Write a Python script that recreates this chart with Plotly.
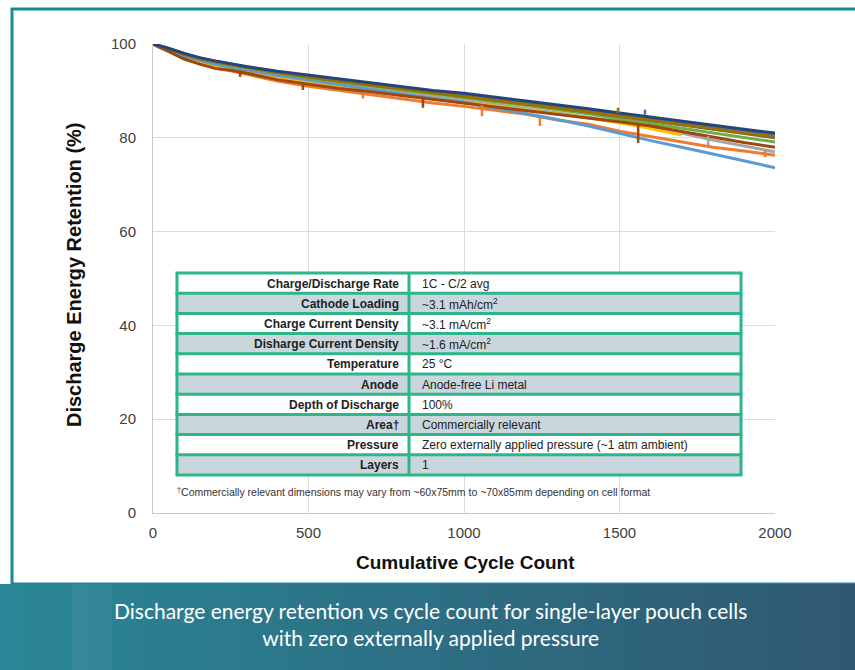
import plotly.graph_objects as go

W, H = 855, 670

# ---------------- data ----------------
cycles = [0, 20, 50, 100, 150, 200, 250, 300, 400, 500, 600, 700, 800, 900,
          1000, 1100, 1200, 1300, 1400, 1500, 1600, 1700, 1800, 1900, 2000]

orange = [100, 99.3, 98.5, 96.9, 96.0, 94.8, 94.3, 93.6, 92.1, 91.0, 90.1, 89.3, 88.4, 87.4,
          86.7, 85.9, 85.0, 83.8, 82.9, 81.4, 80.3, 79.2, 78.0, 77.2, 76.3]
brown = [100, 99.3, 98.4, 96.8, 95.7, 94.8, 94.4, 93.8, 92.4, 91.4, 90.5, 89.8, 89.0, 88.2,
         87.4, 86.6, 85.8, 85.1, 84.3, 83.4, 82.5, 81.3, 80.2, 79.0, 78.0]
yellow = [100, 99.4, 98.6, 97.1, 96.1, 95.3, 94.8, 94.2, 92.9, 91.8, 90.9, 90.0, 89.1, 88.3,
          87.6, 86.8, 85.9, 85.1, 84.2, 83.2, 82.0, 80.6, None, None, None]
light_blue = [100, 99.5, 98.8, 97.4, 96.5, 95.7, 95.1, 94.5, 93.3, 92.3, 91.3, 90.4, 89.4, 88.4,
              87.6, 86.4, 85.2, 83.9, 82.5, 80.9, 79.4, 78.0, 76.6, 75.1, 73.6]
gray = [100, 99.5, 98.8, 97.4, 96.4, 95.6, 95.0, 94.4, 93.2, 92.2, 91.3, 90.5, 89.6, 88.8,
        88.0, 87.1, 86.2, 85.3, 84.4, 83.3, 82.2, 81.0, 79.5, 78.3, 77.0]
green = [100, 99.6, 99.0, 97.8, 96.9, 96.1, 95.5, 94.9, 93.8, 92.8, 91.9, 91.1, 90.2, 89.4,
         88.6, 87.7, 86.9, 86.0, 85.1, 84.0, 83.0, 82.1, 81.1, 80.1, 79.1]
dark_gray = [100, 99.6, 99.0, 97.8, 96.9, 96.2, 95.6, 95.0, 93.9, 93.0, 92.1, 91.3, 90.5, 89.7,
             88.9, 88.1, 87.3, 86.4, 85.5, 84.6, 83.6, 82.7, 81.8, 80.9, 80.0]
gold = [100, 99.6, 99.0, 97.8, 96.9, 96.2, 95.6, 95.0, 93.9, 92.9, 92.0, 91.2, 90.4, 89.6,
        88.8, 88.0, 87.2, 86.4, 85.5, 84.6, 83.7, 82.8, 81.9, 81.0, 80.2]
mid_blue = [100, 99.6, 99.0, 97.9, 97.0, 96.3, 95.7, 95.1, 94.1, 93.2, 92.3, 91.5, 90.7, 89.9,
            89.2, 88.4, 87.6, 86.8, 85.9, 85.0, 84.1, 83.2, 82.4, 81.6, 80.7]
dark_blue = [100, 99.7, 99.1, 98.0, 97.1, 96.4, 95.8, 95.2, 94.2, 93.4, 92.5, 91.7, 90.9, 90.1,
             89.5, 88.7, 87.8, 87.0, 86.2, 85.3, 84.4, 83.5, 82.6, 81.8, 81.0]

series = [
    ("Cell 1", mid_blue, "#4472C4"),
    ("Cell 2", orange, "#ED7D31"),
    ("Cell 3", gray, "#A5A5A5"),
    ("Cell 4", yellow, "#FFC000"),
    ("Cell 5", light_blue, "#5B9BD5"),
    ("Cell 6", green, "#70AD47"),
    ("Cell 7", brown, "#9E480E"),
    ("Cell 8", dark_gray, "#636363"),
    ("Cell 9", gold, "#997300"),
    ("Cell 10", dark_blue, "#264478"),
]

# check-up artefacts (short vertical excursions): cycle, low, high, colour
spike_cycle = [280, 482, 675, 868, 1058, 1244, 1495, 1560, 1582, 1785, 1968]
spike_low = [93.0, 90.2, 88.4, 86.4, 84.6, 82.5, 85.3, 78.9, 84.9, 78.4, 75.9]
spike_high = [94.4, 91.6, 89.6, 88.8, 87.0, 84.2, 86.4, 82.7, 86.0, 80.4, 77.2]
spike_color = ["#9E480E", "#9E480E", "#ED7D31", "#9E480E", "#ED7D31", "#ED7D31",
               "#997300", "#9E480E", "#4472C4", "#A5A5A5", "#ED7D31"]

x_ticks = [0, 500, 1000, 1500, 2000]
y_ticks = [0, 20, 40, 60, 80, 100]

table_labels = ["Charge/Discharge Rate", "Cathode Loading", "Charge Current Density",
                "Disharge Current Density", "Temperature", "Anode", "Depth of Discharge",
                "Area\u2020", "Pressure", "Layers"]
table_values = ["1C - C/2 avg", "~3.1 mAh/cm<sup>2</sup>", "~3.1 mA/cm<sup>2</sup>",
                "~1.6 mA/cm<sup>2</sup>", "25 \u00b0C", "Anode-free Li metal", "100%",
                "Commercially relevant", "Zero externally applied pressure (~1 atm ambient)", "1"]

footnote = ("<sup>\u2020</sup>Commercially relevant dimensions may vary from ~60x75mm to "
            "~70x85mm depending on cell format")
caption = ("Discharge energy retention vs cycle count for single-layer pouch cells<br>"
           "with zero externally applied pressure")

# ---------------- figure ----------------
FONT = "Liberation Sans, Arial, sans-serif"
fig = go.Figure()

for name, vals, col in series:
    fig.add_trace(go.Scatter(x=cycles, y=vals, mode="lines", name=name,
                             line=dict(color=col, width=3), showlegend=False,
                             connectgaps=False, hoverinfo="skip"))

for c, lo, hi, col in zip(spike_cycle, spike_low, spike_high, spike_color):
    fig.add_trace(go.Scatter(x=[c, c], y=[lo, hi], mode="lines",
                             line=dict(color=col, width=2.5), showlegend=False,
                             hoverinfo="skip"))


def px_x(p):
    return p / W


def px_y(p):
    return 1 - p / H


fig.update_layout(
    width=W, height=H, autosize=False, showlegend=False,
    margin=dict(l=0, r=0, t=0, b=0, pad=0),
    paper_bgcolor="white", plot_bgcolor="white",
    font=dict(family=FONT, color="#333333"),
    xaxis=dict(domain=[px_x(153), px_x(775)], range=[0, 2000], tickvals=x_ticks,
               automargin=False,
               showgrid=True, gridcolor="#dcdcdc", gridwidth=1,
               showline=True, linecolor="#c8c8c8", linewidth=1,
               zeroline=False, ticks="", ticklabelstandoff=6,
               tickfont=dict(size=15, color="#404040", family=FONT)),
    yaxis=dict(domain=[px_y(513), px_y(44)], range=[0, 100], tickvals=y_ticks,
               automargin=False,
               showgrid=True, gridcolor="#dcdcdc", gridwidth=1,
               showline=True, linecolor="#c8c8c8", linewidth=1,
               zeroline=False, ticks="", ticklabelstandoff=13,
               tickfont=dict(size=15, color="#404040", family=FONT)),
)

shapes = []
annotations = []

# ---- table (drawn with shapes) ----
TX0, TX1, TXM = 177, 741, 409
TY0, TY1 = 273, 475
n = len(table_labels)
rh = (TY1 - TY0) / n
GREEN = "#2db58b"
for i in range(n):
    y0 = TY0 + i * rh
    y1 = y0 + rh
    fill = "#ffffff" if i % 2 == 0 else "#c9d6dd"
    shapes.append(dict(type="rect", xref="paper", yref="paper",
                       x0=px_x(TX0), x1=px_x(TX1), y0=px_y(y1), y1=px_y(y0),
                       line=dict(width=0), fillcolor=fill, layer="above"))
    ym = px_y((y0 + y1) / 2 + 0.5)
    annotations.append(dict(text="<b>" + table_labels[i] + "</b>", xref="paper", yref="paper",
                            x=px_x(TXM - 8), y=ym, xanchor="right", yanchor="middle",
                            showarrow=False, font=dict(size=12, color="#222222", family=FONT)))
    annotations.append(dict(text=table_values[i], xref="paper", yref="paper",
                            x=px_x(TXM + 11), y=ym, xanchor="left", yanchor="middle",
                            showarrow=False, font=dict(size=12, color="#222222", family=FONT)))
for i in range(n + 1):
    yy = px_y(TY0 + i * rh)
    shapes.append(dict(type="line", xref="paper", yref="paper",
                       x0=px_x(TX0 - 1.5), x1=px_x(TX1 + 1.5), y0=yy, y1=yy,
                       line=dict(color=GREEN, width=3), layer="above"))
for xx in (TX0, TXM, TX1):
    shapes.append(dict(type="line", xref="paper", yref="paper",
                       x0=px_x(xx), x1=px_x(xx), y0=px_y(TY1), y1=px_y(TY0),
                       line=dict(color=GREEN, width=3), layer="above"))

# ---- frame and banner ----
shapes.append(dict(type="rect", xref="paper", yref="paper", x0=px_x(12), x1=1.05,
                   y0=px_y(584), y1=px_y(9), line=dict(color="#168c96", width=3),
                   fillcolor="rgba(0,0,0,0)", layer="above"))
c0 = (0x2a, 0x86, 0x96)
c1 = (0x30, 0x58, 0x72)
N = 60
for i in range(N):
    t = i / (N - 1)
    r = round(c0[0] + (c1[0] - c0[0]) * t)
    g = round(c0[1] + (c1[1] - c0[1]) * t)
    b = round(c0[2] + (c1[2] - c0[2]) * t)
    shapes.append(dict(type="rect", xref="paper", yref="paper",
                       x0=i / N, x1=(i + 1) / N + 0.002, y0=0, y1=px_y(584),
                       line=dict(width=0), fillcolor=f"rgb({r},{g},{b})", layer="above"))
# subtle lighter band near the left of the banner
shapes.append(dict(type="rect", xref="paper", yref="paper", x0=px_x(72), x1=px_x(112),
                   y0=0, y1=px_y(584), line=dict(width=0),
                   fillcolor="rgba(255,255,255,0.05)", layer="above"))

annotations += [
    dict(text="<b>Cumulative Cycle Count</b>", xref="paper", yref="paper",
         x=px_x(465), y=px_y(562), showarrow=False, xanchor="center", yanchor="middle",
         font=dict(size=19, color="#111111", family=FONT)),
    dict(text="<b>Discharge Energy Retention (%)</b>", xref="paper", yref="paper",
         x=px_x(74), y=px_y(275), showarrow=False, xanchor="center", yanchor="middle",
         textangle=-90, font=dict(size=20, color="#111111", family=FONT)),
    dict(text=footnote, xref="paper", yref="paper", x=px_x(175), y=px_y(491),
         showarrow=False, xanchor="left", yanchor="middle",
         font=dict(size=10.5, color="#333333", family=FONT)),
    dict(text=caption, xref="paper", yref="paper", x=px_x(430), y=px_y(624),
         showarrow=False, xanchor="center", yanchor="middle", align="center",
         font=dict(size=21, color="white", family="Lato, Noto Sans, sans-serif")),
]
fig.update_layout(shapes=shapes, annotations=annotations)

post = ("document.body.style.margin='0';document.body.style.overflow='hidden';"
        "window.scrollTo(0,0);")
fig.write_html("out.html", config={"displayModeBar": False}, post_script=post)
